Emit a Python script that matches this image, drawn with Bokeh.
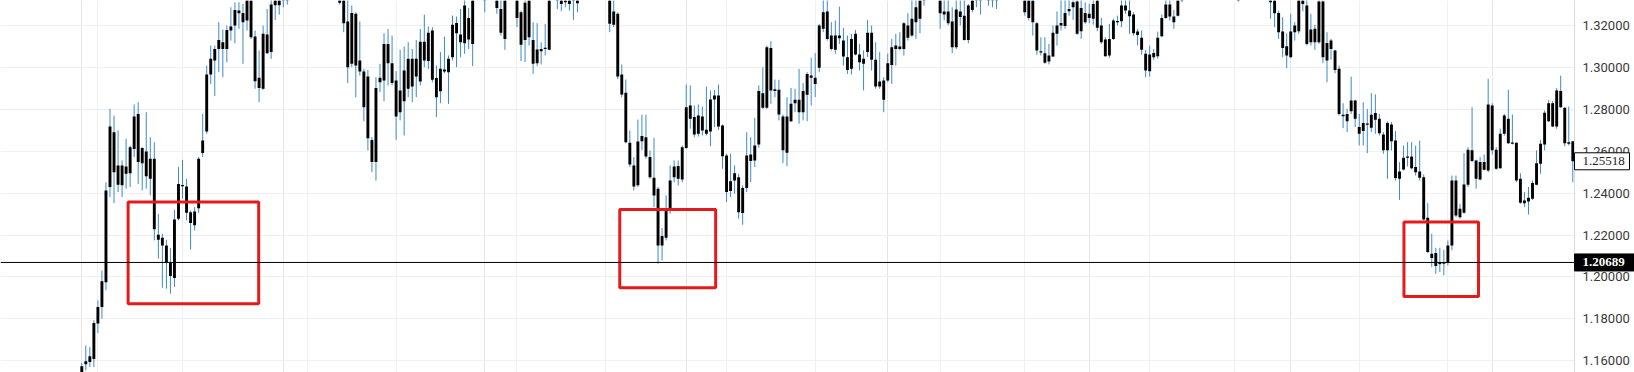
from bokeh.plotting import figure
from bokeh.models import Range1d, FixedTicker, PrintfTickFormatter, Span, Grid, ColumnDataSource
from bokeh.embed import file_html
from bokeh.resources import INLINE

# ---- data ----
high = [
    1.1589, 1.1673, 1.1665, 1.1793, 1.1888, 1.2031, 1.2452, 1.2802, 1.2770, 1.2699,
    1.2556, 1.2659, 1.2627, 1.2823, 1.2834, 1.2619, 1.2786, 1.2667, 1.2643, 1.2301,
    1.2206, 1.2177, 1.2139, 1.2320, 1.2524, 1.2559, 1.2468, 1.2317, 1.2333, 1.2572,
    1.2778, 1.3009, 1.3104, 1.3104, 1.3216, 1.3181, 1.3200, 1.3287, 1.3311, 1.3311,
    1.3303, 1.3380, 1.3370, 1.3176, 1.3081, 1.3200, 1.3279, 1.3330, 1.3360, 1.3370,
    1.3400, 1.3410, 1.3440, 1.3470, 1.3490, 1.3510, 1.3520, 1.3500, 1.3510, 1.3490,
    1.3470, 1.3450, 1.3430, 1.3410, 1.3400, 1.3370, 1.3330, 1.3295, 1.3263, 1.3219,
    1.2993, 1.2988, 1.2667, 1.2953, 1.3017, 1.3163, 1.3184, 1.3152, 1.2982, 1.3084,
    1.3100, 1.3120, 1.3088, 1.3131, 1.3184, 1.3252, 1.3195, 1.3192, 1.3009, 1.3073,
    1.3147, 1.3057, 1.3247, 1.3243, 1.3279, 1.3330, 1.3284, 1.3370, 1.3420, 1.3430,
    1.3390, 1.3420, 1.3410, 1.3380, 1.3330, 1.3360, 1.3420, 1.3410, 1.3370, 1.3271,
    1.3330, 1.3370, 1.3216, 1.3211, 1.3120, 1.3208, 1.3380, 1.3420, 1.3400, 1.3380,
    1.3370, 1.3380, 1.3390, 1.3380, 1.3420, 1.3440, 1.3460, 1.3450, 1.3440, 1.3430,
    1.3410, 1.3380, 1.3330, 1.3263, 1.3014, 1.2942, 1.2699, 1.2572, 1.2751, 1.2774,
    1.2774, 1.2604, 1.2664, 1.2429, 1.2233, 1.2389, 1.2532, 1.2556, 1.2556, 1.2627,
    1.2918, 1.2914, 1.2818, 1.2823, 1.2813, 1.2909, 1.2890, 1.2893, 1.2918, 1.2728,
    1.2588, 1.2588, 1.2532, 1.2492, 1.2437, 1.2691, 1.2667, 1.2759, 1.2914, 1.3001,
    1.3104, 1.3125, 1.2942, 1.2941, 1.2775, 1.2858, 1.2902, 1.2898, 1.2993, 1.2925,
    1.2977, 1.3046, 1.3068, 1.3208, 1.3330, 1.3330, 1.3216, 1.3224, 1.3290, 1.3189,
    1.3152, 1.3160, 1.3179, 1.3112, 1.3081, 1.3227, 1.3200, 1.3120, 1.3073, 1.2953,
    1.3065, 1.3136, 1.3160, 1.3168, 1.3216, 1.3259, 1.3325, 1.3330, 1.3370, 1.3390,
    1.3420, 1.3430, 1.3410, 1.3380, 1.3330, 1.3325, 1.3287, 1.3330, 1.3325, 1.3330,
    1.3303, 1.3370, 1.3390, 1.3380, 1.3400, 1.3390, 1.3385, 1.3390, 1.3420, 1.3440,
    1.3450, 1.3440, 1.3430, 1.3410, 1.3380, 1.3380, 1.3370, 1.3216, 1.3144, 1.3144,
    1.3112, 1.3200, 1.3267, 1.3330, 1.3330, 1.3330, 1.3330, 1.3330, 1.3330, 1.3311,
    1.3303, 1.3330, 1.3370, 1.3236, 1.3144, 1.3208, 1.3232, 1.3247, 1.3330, 1.3330,
    1.3330, 1.3263, 1.3184, 1.3176, 1.3084, 1.3104, 1.3088, 1.3171, 1.3252, 1.3325,
    1.3330, 1.3274, 1.3360, 1.3380, 1.3410, 1.3430, 1.3450, 1.3470, 1.3480, 1.3470,
    1.3490, 1.3480, 1.3460, 1.3440, 1.3420, 1.3410, 1.3400, 1.3390, 1.3420, 1.3440,
    1.3460, 1.3450, 1.3430, 1.3410, 1.3400, 1.3380, 1.3380, 1.3271, 1.3240, 1.3163,
    1.3256, 1.3216, 1.3380, 1.3370, 1.3330, 1.3256, 1.3204, 1.3330, 1.3330, 1.3168,
    1.3136, 1.3084, 1.3009, 1.2829, 1.2802, 1.2956, 1.2845, 1.2778, 1.2834, 1.2802,
    1.2877, 1.2871, 1.2778, 1.2691, 1.2743, 1.2739, 1.2696, 1.2548, 1.2627, 1.2643,
    1.2643, 1.2627, 1.2651, 1.2489, 1.2352, 1.2206, 1.2139, 1.2139, 1.2130, 1.2174,
    1.2484, 1.2484, 1.2349, 1.2591, 1.2619, 1.2810, 1.2559, 1.2572, 1.2584, 1.2945,
    1.2829, 1.2619, 1.2707, 1.2778, 1.2893, 1.2775, 1.2643, 1.2495, 1.2405, 1.2429,
    1.2460, 1.2604, 1.2654, 1.2794, 1.2845, 1.2839, 1.2902, 1.2961, 1.2810, 1.2813,
    1.2648,
]

low = [
    1.1500, 1.1554, 1.1570, 1.1570, 1.1732, 1.1801, 1.1936, 1.2381, 1.2352, 1.2405,
    1.2381, 1.2421, 1.2429, 1.2572, 1.2444, 1.2413, 1.2421, 1.2389, 1.2174, 1.2087,
    1.1948, 1.1944, 1.1920, 1.1952, 1.2270, 1.2373, 1.2270, 1.2130, 1.2222, 1.2305,
    1.2572, 1.2683, 1.2921, 1.2863, 1.2977, 1.2953, 1.3025, 1.3128, 1.3115, 1.3184,
    1.3017, 1.3176, 1.3136, 1.2898, 1.2834, 1.2893, 1.3065, 1.3041, 1.3227, 1.3252,
    1.3287, 1.3300, 1.3340, 1.3370, 1.3390, 1.3410, 1.3420, 1.3400, 1.3410, 1.3390,
    1.3370, 1.3350, 1.3340, 1.3345, 1.3300, 1.3168, 1.2925, 1.3001, 1.2858, 1.2961,
    1.2743, 1.2604, 1.2500, 1.2460, 1.2882, 1.2839, 1.2914, 1.2914, 1.2654, 1.2747,
    1.2675, 1.2858, 1.2834, 1.2858, 1.2914, 1.3001, 1.2993, 1.2929, 1.2763, 1.2829,
    1.2972, 1.2826, 1.3033, 1.3001, 1.3049, 1.3065, 1.3088, 1.3006, 1.3345, 1.3350,
    1.3263, 1.3350, 1.3350, 1.3256, 1.3152, 1.3084, 1.3350, 1.3345, 1.3192, 1.3030,
    1.3025, 1.3104, 1.2969, 1.3006, 1.3014, 1.3057, 1.3081, 1.3355, 1.3279, 1.3268,
    1.3287, 1.3271, 1.3227, 1.3263, 1.3350, 1.3365, 1.3380, 1.3375, 1.3365, 1.3355,
    1.3350, 1.3168, 1.3192, 1.2945, 1.2858, 1.2638, 1.2524, 1.2413, 1.2429, 1.2604,
    1.2564, 1.2468, 1.2333, 1.2063, 1.2079, 1.2174, 1.2301, 1.2452, 1.2437, 1.2452,
    1.2611, 1.2707, 1.2667, 1.2670, 1.2675, 1.2675, 1.2624, 1.2715, 1.2702, 1.2516,
    1.2357, 1.2381, 1.2397, 1.2278, 1.2249, 1.2405, 1.2452, 1.2524, 1.2616, 1.2802,
    1.2802, 1.2826, 1.2858, 1.2747, 1.2543, 1.2529, 1.2739, 1.2786, 1.2731, 1.2747,
    1.2743, 1.2818, 1.2858, 1.2977, 1.3168, 1.3128, 1.3081, 1.3065, 1.3112, 1.3009,
    1.2969, 1.2966, 1.3057, 1.2985, 1.2890, 1.3049, 1.2985, 1.2898, 1.2898, 1.2786,
    1.2929, 1.2921, 1.3009, 1.3081, 1.3057, 1.3128, 1.3144, 1.3136, 1.3163, 1.3295,
    1.3345, 1.3355, 1.3350, 1.3184, 1.3224, 1.3200, 1.3068, 1.3088, 1.3200, 1.3128,
    1.3115, 1.3263, 1.3287, 1.3252, 1.3345, 1.3295, 1.3287, 1.3279, 1.3350, 1.3365,
    1.3375, 1.3365, 1.3355, 1.3345, 1.3247, 1.3224, 1.3152, 1.3060, 1.3057, 1.3017,
    1.3014, 1.3049, 1.3104, 1.3176, 1.3184, 1.3247, 1.3227, 1.3155, 1.3136, 1.3208,
    1.3211, 1.3204, 1.3173, 1.3112, 1.3052, 1.3046, 1.3131, 1.3200, 1.3192, 1.3256,
    1.3160, 1.3152, 1.3104, 1.3061, 1.2953, 1.2956, 1.3036, 1.3041, 1.3144, 1.3232,
    1.3224, 1.3184, 1.3243, 1.3311, 1.3350, 1.3360, 1.3375, 1.3390, 1.3405, 1.3395,
    1.3410, 1.3405, 1.3385, 1.3370, 1.3360, 1.3350, 1.3345, 1.3314, 1.3350, 1.3365,
    1.3380, 1.3375, 1.3360, 1.3350, 1.3345, 1.3232, 1.3192, 1.3136, 1.3049, 1.2996,
    1.3046, 1.3128, 1.3160, 1.3268, 1.3104, 1.3104, 1.3084, 1.3112, 1.3020, 1.2929,
    1.3036, 1.2972, 1.2770, 1.2710, 1.2691, 1.2778, 1.2715, 1.2627, 1.2627, 1.2591,
    1.2691, 1.2683, 1.2675, 1.2588, 1.2468, 1.2604, 1.2460, 1.2368, 1.2508, 1.2527,
    1.2513, 1.2484, 1.2460, 1.2270, 1.2114, 1.2047, 1.2015, 1.2023, 1.2007, 1.2055,
    1.2127, 1.2285, 1.2278, 1.2301, 1.2429, 1.2548, 1.2421, 1.2460, 1.2508, 1.2500,
    1.2584, 1.2511, 1.2516, 1.2675, 1.2635, 1.2632, 1.2452, 1.2349, 1.2333, 1.2298,
    1.2368, 1.2437, 1.2492, 1.2604, 1.2739, 1.2715, 1.2707, 1.2807, 1.2623, 1.2627,
    1.2452,
]

open_ = [
    1.1522, 1.1583, 1.1594, 1.1608, 1.1777, 1.1856, 1.1975, 1.2429, 1.2691, 1.2532,
    1.2437, 1.2492, 1.2495, 1.2611, 1.2778, 1.2543, 1.2599, 1.2468, 1.2564, 1.2201,
    1.2187, 1.2150, 1.2071, 1.1995, 1.2278, 1.2437, 1.2432, 1.2309, 1.2246, 1.2328,
    1.2591, 1.2694, 1.2966, 1.3033, 1.3088, 1.3120, 1.3088, 1.3176, 1.3200, 1.3271,
    1.3260, 1.3224, 1.3340, 1.3147, 1.2950, 1.2898, 1.3157, 1.3073, 1.3297, 1.3340,
    1.3330, 1.3340, 1.3370, 1.3400, 1.3420, 1.3440, 1.3490, 1.3470, 1.3440, 1.3460,
    1.3440, 1.3420, 1.3400, 1.3380, 1.3360, 1.3340, 1.3219, 1.3017, 1.3256, 1.3033,
    1.2980, 1.2956, 1.2654, 1.2548, 1.2929, 1.2937, 1.3112, 1.3020, 1.2937, 1.2786,
    1.2839, 1.2898, 1.3041, 1.2956, 1.2933, 1.3123, 1.3030, 1.3176, 1.2949, 1.2886,
    1.2980, 1.2977, 1.3049, 1.3212, 1.3157, 1.3115, 1.3236, 1.3112, 1.3360, 1.3400,
    1.3360, 1.3360, 1.3380, 1.3350, 1.3279, 1.3136, 1.3360, 1.3380, 1.3340, 1.3263,
    1.3131, 1.3340, 1.3131, 1.3020, 1.3088, 1.3088, 1.3084, 1.3365, 1.3370, 1.3350,
    1.3311, 1.3350, 1.3330, 1.3350, 1.3360, 1.3375, 1.3390, 1.3420, 1.3410, 1.3400,
    1.3380, 1.3350, 1.3267, 1.3256, 1.2966, 1.2879, 1.2640, 1.2532, 1.2437, 1.2648,
    1.2667, 1.2572, 1.2473, 1.2421, 1.2150, 1.2187, 1.2314, 1.2476, 1.2529, 1.2465,
    1.2615, 1.2818, 1.2763, 1.2683, 1.2766, 1.2702, 1.2694, 1.2847, 1.2866, 1.2723,
    1.2580, 1.2410, 1.2460, 1.2476, 1.2424, 1.2424, 1.2584, 1.2556, 1.2632, 1.2877,
    1.2807, 1.3092, 1.2896, 1.2893, 1.2766, 1.2592, 1.2743, 1.2829, 1.2845, 1.2786,
    1.2869, 1.2961, 1.2950, 1.2998, 1.3184, 1.3267, 1.3152, 1.3084, 1.3152, 1.3128,
    1.3049, 1.2993, 1.3160, 1.3061, 1.3017, 1.3073, 1.3165, 1.3036, 1.2909, 1.2937,
    1.2937, 1.3012, 1.3088, 1.3100, 1.3088, 1.3200, 1.3152, 1.3216, 1.3232, 1.3330,
    1.3355, 1.3400, 1.3380, 1.3350, 1.3267, 1.3267, 1.3219, 1.3096, 1.3267, 1.3247,
    1.3131, 1.3274, 1.3330, 1.3350, 1.3350, 1.3360, 1.3355, 1.3330, 1.3360, 1.3375,
    1.3420, 1.3410, 1.3400, 1.3380, 1.3350, 1.3350, 1.3340, 1.3211, 1.3076, 1.3068,
    1.3028, 1.3052, 1.3160, 1.3200, 1.3197, 1.3268, 1.3287, 1.3314, 1.3173, 1.3260,
    1.3236, 1.3232, 1.3340, 1.3200, 1.3133, 1.3057, 1.3136, 1.3216, 1.3220, 1.3295,
    1.3271, 1.3252, 1.3171, 1.3141, 1.3065, 1.2982, 1.3049, 1.3053, 1.3149, 1.3236,
    1.3300, 1.3243, 1.3247, 1.3330, 1.3355, 1.3365, 1.3380, 1.3400, 1.3450, 1.3440,
    1.3420, 1.3450, 1.3430, 1.3410, 1.3390, 1.3380, 1.3370, 1.3360, 1.3360, 1.3370,
    1.3390, 1.3420, 1.3400, 1.3380, 1.3370, 1.3350, 1.3350, 1.3260, 1.3171, 1.3101,
    1.3049, 1.3168, 1.3173, 1.3340, 1.3295, 1.3120, 1.3184, 1.3120, 1.3314, 1.3033,
    1.3128, 1.3081, 1.2993, 1.2774, 1.2743, 1.2791, 1.2842, 1.2715, 1.2696, 1.2728,
    1.2712, 1.2782, 1.2755, 1.2680, 1.2604, 1.2728, 1.2651, 1.2503, 1.2513, 1.2569,
    1.2575, 1.2524, 1.2503, 1.2476, 1.2282, 1.2111, 1.2114, 1.2064, 1.2063, 1.2068,
    1.2150, 1.2460, 1.2285, 1.2306, 1.2440, 1.2604, 1.2556, 1.2465, 1.2511, 1.2508,
    1.2818, 1.2607, 1.2519, 1.2683, 1.2755, 1.2640, 1.2640, 1.2468, 1.2365, 1.2360,
    1.2373, 1.2440, 1.2540, 1.2632, 1.2743, 1.2829, 1.2718, 1.2887, 1.2807, 1.2643,
    1.2648,
]

close = [
    1.1573, 1.1597, 1.1621, 1.1780, 1.1856, 1.1979, 1.2413, 1.2718, 1.2500, 1.2440,
    1.2532, 1.2527, 1.2619, 1.2766, 1.2548, 1.2615, 1.2481, 1.2564, 1.2227, 1.2177,
    1.2150, 1.2071, 1.2004, 1.2274, 1.2444, 1.2433, 1.2306, 1.2257, 1.2312, 1.2564,
    1.2651, 1.2966, 1.3041, 1.3088, 1.3131, 1.3088, 1.3179, 1.3195, 1.3274, 1.3259,
    1.3216, 1.3360, 1.3144, 1.2934, 1.2902, 1.3160, 1.3068, 1.3300, 1.3330, 1.3297,
    1.3370, 1.3380, 1.3410, 1.3440, 1.3460, 1.3480, 1.3450, 1.3430, 1.3480, 1.3420,
    1.3400, 1.3380, 1.3360, 1.3350, 1.3308, 1.3211, 1.3001, 1.3260, 1.3009, 1.2980,
    1.2810, 1.2662, 1.2548, 1.2902, 1.2950, 1.3112, 1.3020, 1.2925, 1.2766, 1.2890,
    1.2985, 1.3041, 1.2909, 1.3041, 1.3123, 1.3033, 1.3165, 1.2941, 1.2858, 1.2993,
    1.2990, 1.3041, 1.3204, 1.3163, 1.3120, 1.3295, 1.3133, 1.3340, 1.3390, 1.3365,
    1.3330, 1.3390, 1.3360, 1.3284, 1.3165, 1.3340, 1.3390, 1.3355, 1.3236, 1.3108,
    1.3308, 1.3144, 1.3017, 1.3085, 1.3077, 1.3092, 1.3360, 1.3390, 1.3335, 1.3303,
    1.3340, 1.3303, 1.3360, 1.3306, 1.3390, 1.3410, 1.3430, 1.3385, 1.3375, 1.3365,
    1.3360, 1.3208, 1.3204, 1.2956, 1.2871, 1.2643, 1.2537, 1.2432, 1.2646, 1.2672,
    1.2575, 1.2476, 1.2389, 1.2150, 1.2195, 1.2314, 1.2460, 1.2527, 1.2468, 1.2619,
    1.2810, 1.2755, 1.2680, 1.2770, 1.2699, 1.2683, 1.2847, 1.2866, 1.2718, 1.2576,
    1.2405, 1.2456, 1.2495, 1.2309, 1.2305, 1.2580, 1.2553, 1.2627, 1.2887, 1.2807,
    1.3096, 1.2890, 1.2887, 1.2775, 1.2604, 1.2766, 1.2826, 1.2845, 1.2786, 1.2887,
    1.2969, 1.2950, 1.2921, 1.3200, 1.3263, 1.3136, 1.3088, 1.3152, 1.3139, 1.3052,
    1.2988, 1.3136, 1.3061, 1.3025, 1.3041, 1.3165, 1.3036, 1.2909, 1.2933, 1.2845,
    1.3020, 1.3096, 1.3104, 1.3088, 1.3211, 1.3141, 1.3232, 1.3287, 1.3340, 1.3360,
    1.3390, 1.3365, 1.3360, 1.3259, 1.3252, 1.3211, 1.3096, 1.3276, 1.3240, 1.3131,
    1.3295, 1.3340, 1.3360, 1.3330, 1.3370, 1.3330, 1.3325, 1.3360, 1.3390, 1.3410,
    1.3385, 1.3375, 1.3365, 1.3355, 1.3263, 1.3236, 1.3216, 1.3081, 1.3071, 1.3022,
    1.3057, 1.3165, 1.3200, 1.3212, 1.3260, 1.3279, 1.3311, 1.3160, 1.3284, 1.3216,
    1.3256, 1.3303, 1.3189, 1.3120, 1.3053, 1.3136, 1.3224, 1.3220, 1.3295, 1.3271,
    1.3244, 1.3163, 1.3155, 1.3084, 1.2985, 1.3061, 1.3069, 1.3141, 1.3236, 1.3300,
    1.3243, 1.3216, 1.3340, 1.3350, 1.3380, 1.3400, 1.3420, 1.3440, 1.3410, 1.3400,
    1.3460, 1.3410, 1.3390, 1.3375, 1.3365, 1.3355, 1.3350, 1.3335, 1.3390, 1.3410,
    1.3430, 1.3385, 1.3365, 1.3355, 1.3350, 1.3311, 1.3259, 1.3168, 1.3092, 1.3057,
    1.3171, 1.3200, 1.3350, 1.3303, 1.3112, 1.3181, 1.3120, 1.3314, 1.3049, 1.3117,
    1.3088, 1.2988, 1.2778, 1.2767, 1.2778, 1.2842, 1.2755, 1.2683, 1.2734, 1.2726,
    1.2774, 1.2750, 1.2686, 1.2604, 1.2735, 1.2648, 1.2472, 1.2468, 1.2569, 1.2575,
    1.2519, 1.2500, 1.2473, 1.2274, 1.2119, 1.2090, 1.2052, 1.2061, 1.2069, 1.2150,
    1.2460, 1.2293, 1.2325, 1.2441, 1.2607, 1.2553, 1.2468, 1.2548, 1.2548, 1.2823,
    1.2604, 1.2516, 1.2683, 1.2770, 1.2638, 1.2635, 1.2460, 1.2354, 1.2352, 1.2378,
    1.2448, 1.2543, 1.2635, 1.2783, 1.2829, 1.2718, 1.2890, 1.2810, 1.2638, 1.2635,
    1.25518,
]

price_ticks = [1.16, 1.18, 1.20, 1.22, 1.24, 1.26, 1.28, 1.30, 1.32]
date_ticks = [4, 25, 56, 78, 108, 130, 160, 182, 213, 234, 265, 286, 317, 339]   # candle index of each date grid line
support_level = 1.20689
last_price = close[-1]

# highlighted zones (candle-index range, price range)
zone_left = [11.5, 133.5, 328.1]
zone_right = [43.9, 157.3, 346.6]
zone_top = [1.2357, 1.2322, 1.2262]
zone_bottom = [1.1872, 1.1948, 1.1907]

# ---- chart ----
Y0, Y1 = 1.15437, 1.33193
X0, X1 = -20.17, 370.42
FRAME_W = 1574
PX = FRAME_W / (X1 - X0)          # pixels per candle step

n = len(close)
min_h = 0.0006
rows = dict(x=[], high=[], low=[], top=[], bottom=[])
for i in range(n):
    if low[i] >= Y1:          # entirely above the visible price window
        continue
    t, b = max(open_[i], close[i]), min(open_[i], close[i])
    if t - b < min_h:
        t = b + min_h
    rows["x"].append(i)
    rows["high"].append(high[i])
    rows["low"].append(low[i])
    rows["top"].append(t)
    rows["bottom"].append(b)
src = ColumnDataSource(rows)

p = figure(width=1634, height=372, output_backend="svg", toolbar_location=None,
           x_range=Range1d(X0, X1), y_range=Range1d(Y0, Y1),
           x_axis_location=None, y_axis_location="right",
           min_border_left=0, min_border_top=0, min_border_bottom=0, min_border_right=60)
p.outline_line_color = None
p.background_fill_color = "white"
p.border_fill_color = "white"

GRID = "#eef0f5"
p.ygrid.grid_line_color = GRID
p.add_layout(Grid(dimension=0, ticker=FixedTicker(ticks=date_ticks), grid_line_color=GRID))

ax = p.yaxis[0]
ax.ticker = FixedTicker(ticks=price_ticks)
ax.formatter = PrintfTickFormatter(format="%.5f")
ax.axis_line_color = "#d6d9e0"
ax.major_tick_line_color = None
ax.minor_tick_line_color = None
ax.major_tick_out = 0
ax.major_label_standoff = 8
ax.major_label_text_font = "Roboto"
ax.major_label_text_font_size = "13px"
ax.major_label_text_color = "#3a3a3a"

p.segment(x0="x", y0="high", x1="x", y1="low", source=src, line_color="#3d8ac7", line_width=1)
p.vbar(x="x", width=0.72, top="top", bottom="bottom", source=src,
       fill_color="black", line_color=None)

p.add_layout(Span(location=support_level, dimension="width", line_color="black", line_width=1))

p.quad(left=zone_left, right=zone_right, top=zone_top, bottom=zone_bottom,
       fill_color=None, line_color="#e31b1b", line_width=3)

# price tags on the price scale (drawn at overlay level so they may sit over the axis panel)
tag_w = [55, 60]
tag_prices = [last_price, support_level]
tag_x = [X1 + (w / 2) / PX for w in tag_w]
p.rect(x=tag_x, y=tag_prices, width=tag_w, height=[17, 17],
       width_units="screen", height_units="screen",
       fill_color=["white", "black"], line_color=["black", "black"], line_width=1,
       level="overlay")
p.text(x=[X1, X1], y=tag_prices, text=[f"{v:.5f}" for v in tag_prices],
       x_offset=8, text_align="left", text_baseline="middle",
       text_font="Roboto", text_font_size="13px",
       text_font_style=["normal", "bold"], text_color=["#222222", "white"],
       level="overlay")

open("out.html", "w").write(file_html(p, INLINE))
